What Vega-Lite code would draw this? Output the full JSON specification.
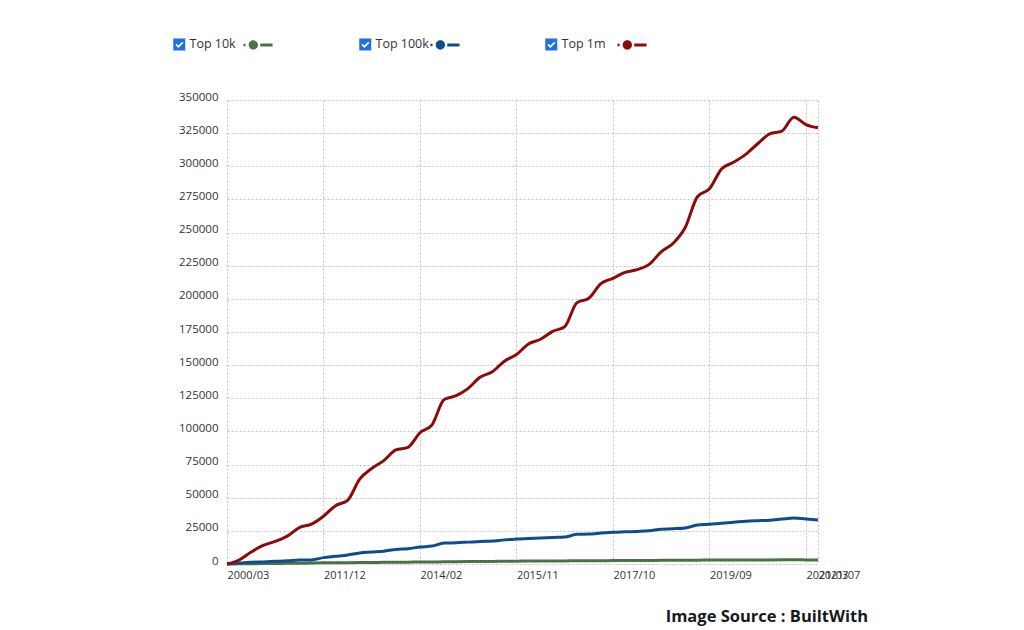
{
  "$schema": "https://vega.github.io/schema/vega-lite/v6.json",
  "width": 591,
  "height": 464,
  "autosize": {"type": "none"},
  "padding": {"left": 227, "top": 100, "right": 206, "bottom": 66},
  "background": "white",
  "config": {"view": {"stroke": null}, "font": "Open Sans"},
  "title": {
    "text": "Image Source : BuiltWith",
    "orient": "bottom",
    "anchor": "end",
    "frame": "group",
    "font": "Open Sans",
    "fontWeight": "bold",
    "fontSize": 16.5,
    "color": "#151a22",
    "offset": 29,
    "dx": 50
  },
  "data": {
    "values": [
      {"date": "2000/03", "Top 10k": 0, "Top 100k": 0, "Top 1m": 0},
      {"date": "2010/03", "Top 10k": 100, "Top 100k": 700, "Top 1m": 3000},
      {"date": "2010/06", "Top 10k": 200, "Top 100k": 1300, "Top 1m": 9000},
      {"date": "2010/09", "Top 10k": 300, "Top 100k": 1600, "Top 1m": 14000},
      {"date": "2010/12", "Top 10k": 400, "Top 100k": 2000, "Top 1m": 17000},
      {"date": "2011/03", "Top 10k": 500, "Top 100k": 2400, "Top 1m": 21000},
      {"date": "2011/06", "Top 10k": 600, "Top 100k": 3000, "Top 1m": 27500},
      {"date": "2011/09", "Top 10k": 700, "Top 100k": 3100, "Top 1m": 30000},
      {"date": "2011/12", "Top 10k": 850, "Top 100k": 4800, "Top 1m": 36000},
      {"date": "2012/03", "Top 10k": 950, "Top 100k": 5800, "Top 1m": 44000},
      {"date": "2012/06", "Top 10k": 1000, "Top 100k": 6800, "Top 1m": 48000},
      {"date": "2012/09", "Top 10k": 1100, "Top 100k": 8300, "Top 1m": 64000},
      {"date": "2012/12", "Top 10k": 1150, "Top 100k": 9000, "Top 1m": 72000},
      {"date": "2013/04", "Top 10k": 1250, "Top 100k": 9700, "Top 1m": 78000},
      {"date": "2013/07", "Top 10k": 1300, "Top 100k": 11000, "Top 1m": 86000},
      {"date": "2013/10", "Top 10k": 1400, "Top 100k": 11500, "Top 1m": 88000},
      {"date": "2014/02", "Top 10k": 1500, "Top 100k": 12800, "Top 1m": 99000},
      {"date": "2014/05", "Top 10k": 1550, "Top 100k": 13500, "Top 1m": 105000},
      {"date": "2014/08", "Top 10k": 1650, "Top 100k": 15800, "Top 1m": 124000},
      {"date": "2014/11", "Top 10k": 1700, "Top 100k": 16000, "Top 1m": 127000},
      {"date": "2015/01", "Top 10k": 1800, "Top 100k": 16500, "Top 1m": 132500},
      {"date": "2015/03", "Top 10k": 1850, "Top 100k": 17000, "Top 1m": 141000},
      {"date": "2015/06", "Top 10k": 1950, "Top 100k": 17300, "Top 1m": 145000},
      {"date": "2015/08", "Top 10k": 2050, "Top 100k": 18200, "Top 1m": 153000},
      {"date": "2015/11", "Top 10k": 2150, "Top 100k": 18800, "Top 1m": 158000},
      {"date": "2016/02", "Top 10k": 2200, "Top 100k": 19300, "Top 1m": 166000},
      {"date": "2016/05", "Top 10k": 2250, "Top 100k": 19600, "Top 1m": 169500},
      {"date": "2016/08", "Top 10k": 2300, "Top 100k": 20000, "Top 1m": 175500},
      {"date": "2016/11", "Top 10k": 2350, "Top 100k": 20300, "Top 1m": 179000},
      {"date": "2017/01", "Top 10k": 2400, "Top 100k": 22400, "Top 1m": 197000},
      {"date": "2017/04", "Top 10k": 2450, "Top 100k": 22600, "Top 1m": 200500},
      {"date": "2017/07", "Top 10k": 2500, "Top 100k": 23300, "Top 1m": 211500},
      {"date": "2017/10", "Top 10k": 2550, "Top 100k": 24000, "Top 1m": 215500},
      {"date": "2018/01", "Top 10k": 2600, "Top 100k": 24300, "Top 1m": 220000},
      {"date": "2018/04", "Top 10k": 2650, "Top 100k": 24600, "Top 1m": 222000},
      {"date": "2018/07", "Top 10k": 2700, "Top 100k": 25000, "Top 1m": 226000},
      {"date": "2018/10", "Top 10k": 2750, "Top 100k": 26300, "Top 1m": 235500},
      {"date": "2018/12", "Top 10k": 2800, "Top 100k": 26600, "Top 1m": 242000},
      {"date": "2019/03", "Top 10k": 2850, "Top 100k": 27200, "Top 1m": 254000},
      {"date": "2019/06", "Top 10k": 2900, "Top 100k": 29400, "Top 1m": 277000},
      {"date": "2019/09", "Top 10k": 2950, "Top 100k": 30000, "Top 1m": 283000},
      {"date": "2019/11", "Top 10k": 3000, "Top 100k": 30800, "Top 1m": 298000},
      {"date": "2020/01", "Top 10k": 3050, "Top 100k": 31500, "Top 1m": 303000},
      {"date": "2020/04", "Top 10k": 3050, "Top 100k": 32300, "Top 1m": 309000},
      {"date": "2020/06", "Top 10k": 3100, "Top 100k": 32700, "Top 1m": 317000},
      {"date": "2020/08", "Top 10k": 3100, "Top 100k": 33000, "Top 1m": 324500},
      {"date": "2020/10", "Top 10k": 3150, "Top 100k": 33900, "Top 1m": 326500},
      {"date": "2020/12", "Top 10k": 3200, "Top 100k": 34700, "Top 1m": 337000},
      {"date": "2021/03", "Top 10k": 3100, "Top 100k": 33900, "Top 1m": 331500},
      {"date": "2021/07", "Top 10k": 3000, "Top 100k": 33200, "Top 1m": 329000}
    ]
  },
  "transform": [{"fold": ["Top 10k", "Top 100k", "Top 1m"], "as": ["series", "value"]}],
  "encoding": {
    "x": {
      "field": "date",
      "type": "ordinal",
      "sort": null,
      "scale": {"type": "point", "padding": 0},
      "axis": {
        "title": null,
        "values": ["2000/03", "2011/12", "2014/02", "2015/11", "2017/10", "2019/09", "2021/03", "2021/07"],
        "domain": false,
        "ticks": false,
        "grid": true,
        "gridColor": "#c4c4c4",
        "gridDash": [2, 2],
        "gridWidth": 1,
        "labelAngle": 0,
        "labelAlign": "left",
        "labelBaseline": "top",
        "labelOverlap": false,
        "labelFlush": false,
        "labelPadding": 5,
        "labelFont": "Open Sans",
        "labelFontSize": 11,
        "labelColor": "#333333"
      }
    },
    "y": {
      "field": "value",
      "type": "quantitative",
      "scale": {"domain": [0, 350000], "nice": false},
      "axis": {
        "title": null,
        "values": [0, 25000, 50000, 75000, 100000, 125000, 150000, 175000, 200000, 225000, 250000, 275000, 300000, 325000, 350000],
        "format": "d",
        "domain": false,
        "ticks": false,
        "grid": true,
        "gridColor": "#c4c4c4",
        "gridDash": [2, 2],
        "gridWidth": 1,
        "labelBaseline": "alphabetic",
        "labelPadding": 9,
        "labelFont": "Open Sans",
        "labelFontSize": 11.5,
        "labelColor": "#333333"
      }
    }
  },
  "layer": [
    {
      "mark": {"type": "line", "interpolate": "monotone", "strokeWidth": 3},
      "encoding": {
        "color": {
          "field": "series",
          "type": "nominal",
          "scale": {"domain": ["Top 1m", "Top 100k", "Top 10k"], "range": ["#8c0a0a", "#104c8c", "#4b7247"]},
          "legend": null
        }
      }
    },
    {
      "mark": {"type": "point", "filled": true, "opacity": 0, "shape": "M-0.97,-0.08H-0.83V0.08H-0.97Z M-0.62,0A0.31,0.31 0 1 0 0,0A0.31,0.31 0 1 0 -0.62,0Z M0.15,-0.1H0.97V0.1H0.15Z"},
      "encoding": {
        "fill": {
          "field": "series",
          "type": "nominal",
          "scale": {"domain": ["Top 10k", "Top 100k", "Top 1m", "-"], "range": ["#4b7247", "#104c8c", "#8c0a0a", "#ffffff"]},
          "legend": {
            "title": null,
            "values": ["Top 10k", "Top 100k", "Top 1m"],
            "orient": "none",
            "legendX": 16,
            "legendY": -70,
            "direction": "horizontal",
            "padding": 0,
            "gridAlign": "all",
            "columnPadding": 157,
            "symbolType": "M-0.97,-0.08H-0.83V0.08H-0.97Z M-0.62,0A0.31,0.31 0 1 0 0,0A0.31,0.31 0 1 0 -0.62,0Z M0.15,-0.1H0.97V0.1H0.15Z",
            "symbolSize": 900,
            "symbolStrokeWidth": 0,
            "labelExpr": "''",
            "labelOffset": 0
          }
        }
      }
    },
    {
      "mark": {"type": "point", "filled": true, "opacity": 0, "color": "#1f6fe5"},
      "encoding": {
        "shape": {
          "field": "series",
          "type": "nominal",
          "scale": {
            "domain": ["Top 10k", "Top 100k", "Top 1m"],
            "range": [
              "M-1,-1H1V1H-1Z M-0.65,0.1L-0.15,0.6L0.7,-0.25L0.5,-0.45L-0.15,0.2L-0.45,-0.1Z",
              "M-1,-1H1V1H-1Z M-0.65,0.1L-0.15,0.6L0.7,-0.25L0.5,-0.45L-0.15,0.2L-0.45,-0.1Z",
              "M-1,-1H1V1H-1Z M-0.65,0.1L-0.15,0.6L0.7,-0.25L0.5,-0.45L-0.15,0.2L-0.45,-0.1Z"
            ]
          },
          "legend": {
            "title": null,
            "orient": "none",
            "legendX": -54,
            "legendY": -62,
            "direction": "horizontal",
            "padding": 0,
            "gridAlign": "all",
            "columnPadding": 116,
            "symbolSize": 144,
            "symbolFillColor": "#1f6fe5",
            "symbolStrokeWidth": 0,
            "labelOffset": 4,
            "labelFont": "Open Sans",
            "labelFontSize": 12.5,
            "labelColor": "#333333"
          }
        }
      }
    }
  ]
}
